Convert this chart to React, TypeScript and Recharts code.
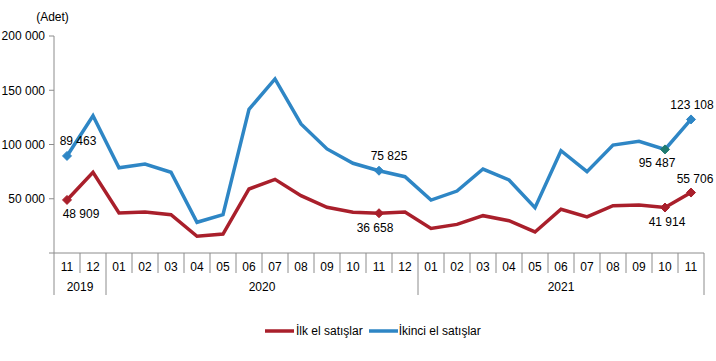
import React from 'react';
import { LineChart, Line, XAxis, YAxis, Legend } from 'recharts';

const months = ['11', '12', '01', '02', '03', '04', '05', '06', '07', '08', '09', '10', '11', '12', '01', '02', '03', '04', '05', '06', '07', '08', '09', '10', '11'];
const years = [
  { label: '2019', start: 0, end: 1 },
  { label: '2020', start: 2, end: 13 },
  { label: '2021', start: 14, end: 24 },
];
const firstHand = [48909, 74400, 36900, 37800, 35300, 15400, 17500, 59000, 67900, 52800, 42100, 37500, 36658, 37800, 22700, 26400, 34400, 29800, 19400, 40300, 33200, 43600, 44200, 41914, 55706];
const secondHand = [89463, 126500, 78600, 82000, 74400, 28300, 35300, 132400, 160400, 118900, 95900, 82700, 75825, 70300, 48800, 57100, 77400, 67300, 41800, 94300, 74900, 99500, 102900, 95487, 123108];
const yTicks = [0, 50000, 100000, 150000, 200000];
const highlighted = [0, 12, 23, 24];

const RED = '#A91F2B';
const BLUE = '#2E86C5';
const TEAL = '#1F7B70';
const AXIS = '#8C8C8C';
const FONT = 'Liberation Sans, Arial, sans-serif';

const CHART_W = 716;
const CHART_H = 361;
const Y_AXIS_W = 54;
const MARGIN = { top: 36, right: 12, left: 0, bottom: 48 };
const BAND = (CHART_W - MARGIN.left - MARGIN.right - Y_AXIS_W) / months.length;

const data = months.map((m, i) => ({ month: m, ilk: firstHand[i], ikinci: secondHand[i] }));

const fmt = (v: number) => String(Math.round(v)).replace(/\B(?=(\d{3})+(?!\d))/g, ' ');

const firstLabels: Record<number, { dy: number; dx: number }> = {
  0: { dy: 18, dx: 14 },
  12: { dy: 19, dx: -4 },
  23: { dy: 18, dx: 2 },
  24: { dy: -10, dx: 4 },
};
const secondLabels: Record<number, { dy: number; dx: number }> = {
  0: { dy: -11, dx: 11 },
  12: { dy: -11, dx: 10 },
  23: { dy: 18, dx: -8 },
  24: { dy: -10, dx: 1 },
};

const MonthTick = (props: any) => {
  const { x, y, payload } = props;
  const index = payload.index;
  const left = x - BAND / 2;
  const right = x + BAND / 2;
  const isGroupStart = years.some((g) => g.start === index);
  const group = years.find((g) => Math.floor((g.start + g.end) / 2) === index);
  const last = index === months.length - 1;
  let yearX = 0;
  if (group) {
    yearX = x + ((group.start + group.end) / 2 - index) * BAND;
  }
  return (
    <g>
      <line x1={left} x2={left} y1={y} y2={y + (isGroupStart ? 42 : 20)} stroke={AXIS} strokeWidth={1} />
      {last && <line x1={right} x2={right} y1={y} y2={y + 42} stroke={AXIS} strokeWidth={1} />}
      <text x={x} y={y + 17.5} textAnchor="middle" fontSize={12} fontFamily={FONT} fill="#000">
        {payload.value}
      </text>
      {group && (
        <text x={yearX} y={y + 37.5} textAnchor="middle" fontSize={12} fontFamily={FONT} fill="#000">
          {group.label}
        </text>
      )}
    </g>
  );
};

const makeDot = (color: (i: number) => string) => (props: any) => {
  const { cx, cy, index } = props;
  if (!highlighted.includes(index) || cx == null || cy == null) return <g key={`d${index}`} />;
  const r = 4.5;
  return (
    <path
      key={`d${index}`}
      d={`M${cx},${cy - r} L${cx + r},${cy} L${cx},${cy + r} L${cx - r},${cy} Z`}
      fill={color(index)}
      stroke={color(index)}
      strokeWidth={1}
    />
  );
};

const makeLabel = (cfg: Record<number, { dy: number; dx: number }>) => (props: any) => {
  const { x, y, index, value } = props;
  const c = cfg[index];
  if (!c) return <g key={`l${index}`} />;
  return (
    <text key={`l${index}`} x={x + c.dx} y={y + c.dy} textAnchor="middle" fontSize={12} fontFamily={FONT} fill="#000">
      {fmt(value)}
    </text>
  );
};

const LegendContent = () => (
  <div style={{ display: 'flex', alignItems: 'center', fontFamily: FONT, fontSize: 12, color: '#000', whiteSpace: 'nowrap' }}>
    <svg width={29} height={8} style={{ marginRight: 2 }}>
      <line x1={0} x2={29} y1={4} y2={4} stroke={RED} strokeWidth={3.5} />
    </svg>
    <span style={{ marginRight: 6 }}>İlk el satışlar</span>
    <svg width={29} height={8} style={{ marginRight: 1 }}>
      <line x1={0} x2={29} y1={4} y2={4} stroke={BLUE} strokeWidth={3.5} />
    </svg>
    <span>İkinci el satışlar</span>
  </div>
);

export default function App() {
  return (
    <div style={{ position: 'absolute', left: 0, top: 0, width: CHART_W, height: CHART_H }}>
      <LineChart width={CHART_W} height={CHART_H} data={data} margin={MARGIN}>
        <XAxis
          dataKey="month"
          height={60}
          tick={<MonthTick />}
          tickLine={false}
          tickSize={0}
          tickMargin={0}
          axisLine={{ stroke: AXIS }}
          interval={0}
          padding={{ left: BAND / 2, right: BAND / 2 }}
        />
        <YAxis
          width={Y_AXIS_W}
          domain={[0, 200000]}
          ticks={yTicks}
          interval={0}
          tickFormatter={(v: number) => (v === 0 ? '' : fmt(v))}
          tick={{ fontSize: 12, fontFamily: FONT, fill: '#000' }}
          tickSize={5}
          tickMargin={4}
          tickLine={{ stroke: AXIS }}
          axisLine={{ stroke: AXIS }}
          label={(p: any) => {
            const vb = p.viewBox || { x: 0, y: 36, width: 54 };
            return (
              <text x={vb.x + vb.width - 1.5} y={vb.y - 15} textAnchor="middle" fontSize={12} fontFamily={FONT} fill="#000">
                (Adet)
              </text>
            );
          }}
        />
        <Legend
          layout="horizontal"
          verticalAlign="middle"
          content={<LegendContent />}
          wrapperStyle={{ left: 265, top: 324, width: 240 }}
        />
        <Line
          type="linear"
          dataKey="ilk"
          name="İlk el satışlar"
          stroke={RED}
          strokeWidth={3.5}
          dot={makeDot(() => RED)}
          activeDot={false}
          label={makeLabel(firstLabels)}
          isAnimationActive={false}
        />
        <Line
          type="linear"
          dataKey="ikinci"
          name="İkinci el satışlar"
          stroke={BLUE}
          strokeWidth={3.5}
          dot={makeDot((i) => (i === 23 ? TEAL : BLUE))}
          activeDot={false}
          label={makeLabel(secondLabels)}
          isAnimationActive={false}
        />
      </LineChart>
    </div>
  );
}
